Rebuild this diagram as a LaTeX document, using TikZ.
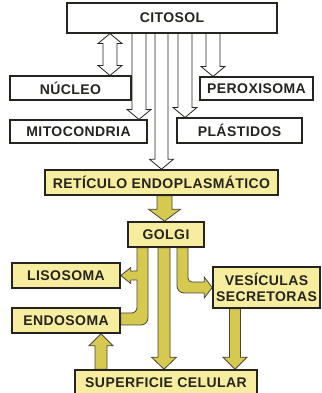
\documentclass[tikz,border=0pt]{standalone}
\usepackage{fontspec}
\newfontfamily\lblfont[LetterSpace=3]{Liberation Sans}
\usetikzlibrary{calc,backgrounds}
\definecolor{boxyellow}{HTML}{F6EE9E}
\definecolor{arrowyellow}{HTML}{D6C94F}
\definecolor{inkdark}{HTML}{262420}
\tikzset{
  cell/.style={draw=inkdark,line width=1.1pt,fill=white,minimum height=24pt,inner sep=1pt,
               font=\lblfont\bfseries\fontsize{14}{15.5}\selectfont,text=inkdark,align=center},
  ycell/.style={cell,fill=boxyellow,line width=1.6pt},
  warr/.style={draw=inkdark,line width=0.8pt,fill=white,line join=miter},
  yarr/.style={draw=inkdark!85,line width=0.8pt,fill=arrowyellow,line join=miter},
  fat/shaft/.initial=7pt,
  fat/head/.initial=12pt,
  fat/len/.initial=10pt,
}
% vertical block arrow: [options]{x}{from}{to}
\newcommand{\fatarrow}[4][]{%
  \draw[#1] let \p1=(#3), \p2=(#4),
      \n1={sign(\y1-\y2)*\pgfkeysvalueof{/tikz/fat/len}},
      \n2={\pgfkeysvalueof{/tikz/fat/shaft}},
      \n3={\pgfkeysvalueof{/tikz/fat/head}} in
    ({#2-\n2},\y1) -- ({#2-\n2},{\y2+\n1}) -- ({#2-\n3},{\y2+\n1}) -- (#2,\y2)
    -- ({#2+\n3},{\y2+\n1}) -- ({#2+\n2},{\y2+\n1}) -- ({#2+\n2},\y1) -- cycle;}

\begin{document}
\begin{tikzpicture}[x=1pt,y=1pt]
  \useasboundingbox (0,0) rectangle (321,393);

  % cell compartments
  \node[cell,minimum width=210pt,minimum height=30pt] (citosol)     at (172,375)   {CITOSOL};
  \node[cell,minimum width=121pt]                     (nucleo)      at (70.5,305)  {NÚCLEO};
  \node[cell,minimum width=113pt,minimum height=23pt] (peroxisoma)  at (256.5,304.5) {PEROXISOMA};
  \node[cell,minimum width=137pt,minimum height=23pt] (mitocondria) at (78.5,261.5) {MITOCONDRIA};
  \node[cell,minimum width=125pt,minimum height=25pt] (plastidos)   at (239.5,262.5) {PLÁSTIDOS};

  % secretory pathway
  \node[ycell,minimum width=233pt,minimum height=25pt] (reticulo)   at (161.5,210.5) {RETÍCULO ENDOPLASMÁTICO};
  \node[ycell,minimum width=76pt,minimum height=25pt]  (golgi)      at (166,158.5)   {GOLGI};
  \node[ycell,minimum width=108pt,minimum height=25pt] (lisosoma)   at (66,117.5)    {LISOSOMA};
  \node[ycell,minimum width=108pt,minimum height=25pt] (endosoma)   at (66,72.5)     {ENDOSOMA};
  \node[ycell,minimum width=107pt,minimum height=41pt] (vesiculas)  at (266.5,105.5) {VESÍCULAS\\SECRETORAS};
  \node[ycell,minimum width=182pt,minimum height=26pt] (superficie) at (166,10)      {SUPERFICIE CELULAR};

  \begin{scope}[on background layer]
    % from the cytosol
    \draw[warr] let \p1=(citosol.south), \p2=(nucleo.north) in
      (110pt,\y1) -- (122pt,\y1-10pt) -- (117pt,\y1-10pt) -- (117pt,\y2+10pt) -- (122pt,\y2+10pt)
      -- (110pt,\y2) -- (98pt,\y2+10pt) -- (103pt,\y2+10pt) -- (103pt,\y1-10pt) -- (98pt,\y1-10pt) -- cycle;
    \fatarrow[warr]{213pt}{citosol.south}{peroxisoma.north}
    \fatarrow[warr]{139pt}{citosol.south}{mitocondria.north}
    \fatarrow[warr]{185pt}{citosol.south}{plastidos.north}
    \fatarrow[warr,fat/shaft=6.5pt]{161.5pt}{citosol.south}{reticulo.north}

    % through the secretory pathway
    \fatarrow[yarr,fat/shaft=7.5pt,fat/head=16pt,fat/len=12pt]{164.5pt}{reticulo.south}{golgi.north}
    \fatarrow[yarr,fat/shaft=6pt,fat/head=12.5pt,fat/len=12pt]{164pt}{golgi.south}{superficie.north}
    \fatarrow[yarr,fat/shaft=5.5pt,fat/head=12pt,fat/len=12pt]{235pt}{vesiculas.south}{superficie.north}
    \fatarrow[yarr,fat/shaft=6pt,fat/head=12pt,fat/len=12pt]{101pt}{superficie.north}{endosoma.south}

    \draw[yarr] let \p1=(golgi.south), \p2=(lisosoma.east), \p3=(endosoma.east) in
      (137pt,\y1) -- (137pt,\y2+4.5pt) -- (\x2+10pt,\y2+4.5pt) -- (\x2+10pt,\y2+8pt) -- (\x2,\y2)
      -- (\x2+10pt,\y2-8pt) -- (\x2+10pt,\y2-4.5pt) -- (137pt,\y2-4.5pt)
      [rounded corners=5pt] -- (137pt,\y3+7.5pt) [sharp corners] -- (\x3,\y3+7.5pt) -- (\x3,\y3-4.5pt)
      [rounded corners=7pt] -- (148pt,\y3-4.5pt) [sharp corners] -- (148pt,\y1) -- cycle;
    \draw[yarr] let \p1=(golgi.south), \p2=(vesiculas.west) in
      (177pt,\y1) [rounded corners=7pt] -- (177pt,\y2-5.5pt) [sharp corners] -- (\x2-8pt,\y2-5.5pt)
      -- (\x2-8pt,\y2-10.5pt) -- (\x2,\y2) -- (\x2-8pt,\y2+10.5pt) -- (\x2-8pt,\y2+5.5pt)
      [rounded corners=4pt] -- (188pt,\y2+5.5pt) [sharp corners] -- (188pt,\y1) -- cycle;
  \end{scope}
\end{tikzpicture}
\end{document}
